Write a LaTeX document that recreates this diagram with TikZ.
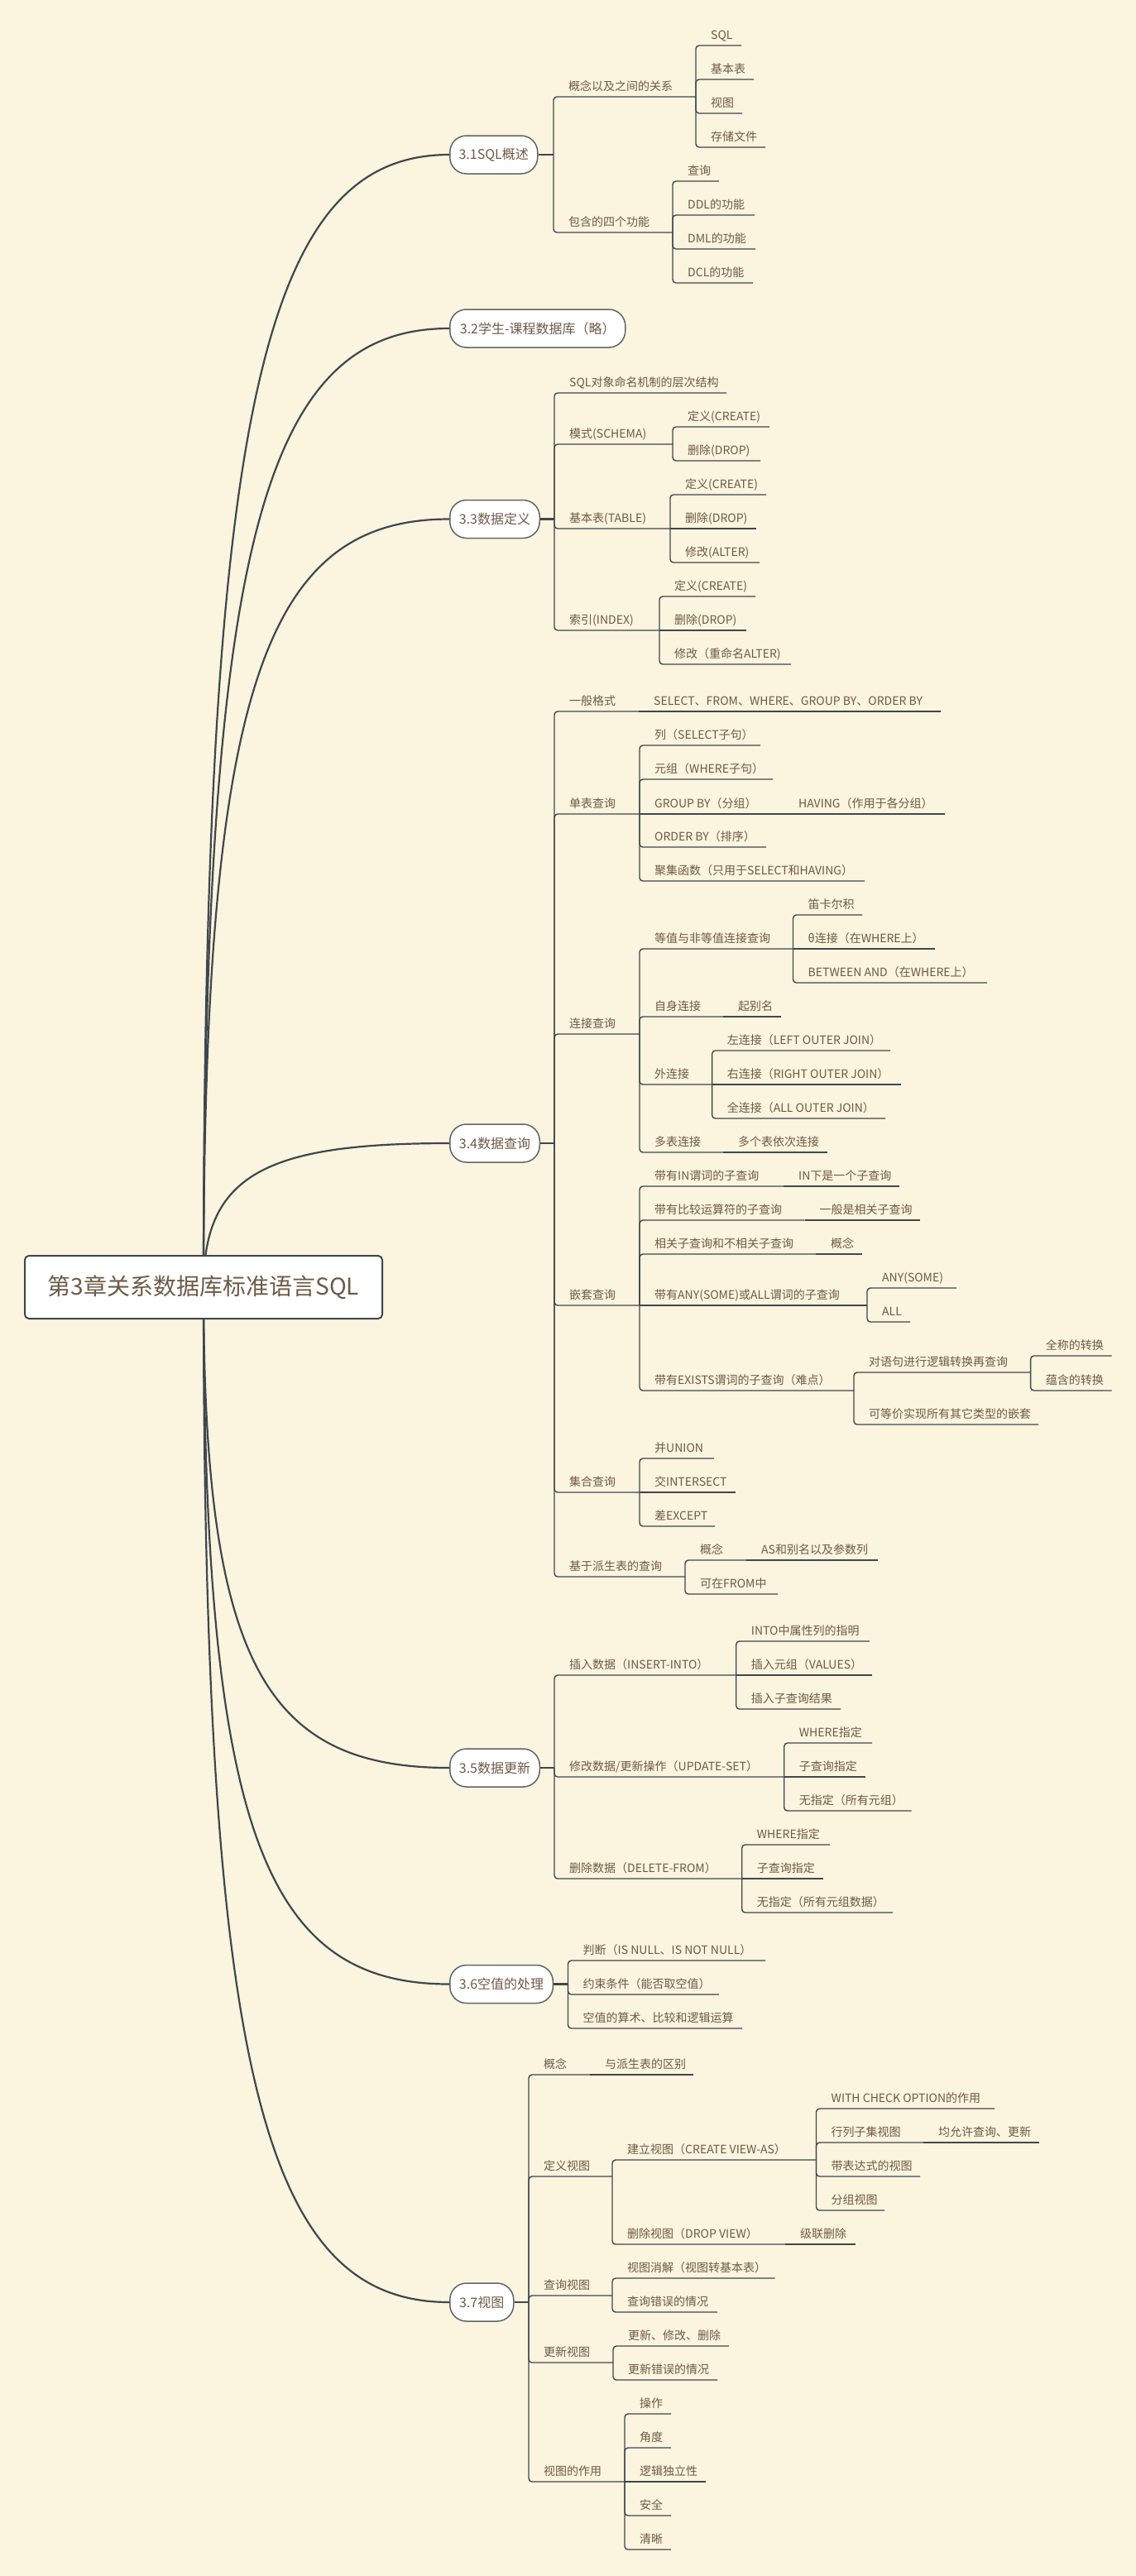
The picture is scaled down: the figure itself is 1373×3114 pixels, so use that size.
\documentclass[tikz,border=0pt]{standalone}
\usepackage{fontspec}
\setmainfont{Noto Sans CJK SC}
\usetikzlibrary{calc}
\pgfdeclarelayer{bg}
\pgfsetlayers{bg,main}
\definecolor{bgc}{HTML}{FBF4DE}
\definecolor{txt}{HTML}{6E5A46}
\definecolor{ln}{HTML}{3F474E}
\definecolor{bd}{HTML}{5F656B}
\newcommand\kid[5]{%
  \coordinate (#2E) at (#4,#3);
  \path (#1E) ++(18,0) coordinate (#2T);
  \node[lab] (#2) at (#2T |- #2E) {#5};
  \pgfpointanchor{#1E}{center}\pgfgetlastxy{\kax}{\kay}%
  \pgfpointanchor{#2E}{center}\pgfgetlastxy{\kbx}{\kby}%
  \ifdim\dimexpr\kay-\kby\relax=0pt
    \draw[ul, sharp corners] (#1E) -- (#2E);
  \else
    \draw[ul] (#1E) |- (#2E);
  \fi
}
\begin{document}
\begin{tikzpicture}[x=1pt,y=-1pt,
  lab/.style={anchor=base west, inner sep=0pt, yshift=8pt, font=\fontsize{14}{16}\selectfont, text=txt},
  ul/.style={draw=ln, line width=1.4pt, rounded corners=4pt},
  lone/.style={draw=bd, fill=white, line width=1.5pt, rounded corners=20pt, minimum height=46pt, inner sep=0pt, anchor=west, font=\fontsize{16}{18}\selectfont, text=txt},
  rootbox/.style={draw=ln, fill=white, line width=2pt, rounded corners=5pt, minimum width=432pt, minimum height=76pt, inner sep=0pt, font=\fontsize{28}{32}\selectfont, text=txt},
  lonec/.style={draw=ln, line width=2.2pt},
  lonej/.style={draw=ln, line width=2.6pt}]
\useasboundingbox (0,0) rectangle (1373,3114);
\begin{pgfonlayer}{bg}
\fill[bgc] (0,0) rectangle (1373,3114);
\end{pgfonlayer}

\node[rootbox] (root) at (246,1556) {第3章关系数据库标准语言SQL};

% level 1
\node[lone, minimum width=106pt] (n1) at (543,187) {3.1SQL概述};
\node[lone, minimum width=212pt] (n2) at (543,397) {3.2学生-课程数据库（略）};
\node[lone, minimum width=108.5pt] (n3) at (543,627.5) {3.3数据定义};
\node[lone, minimum width=108.5pt] (n4) at (543,1382) {3.4数据查询};
\node[lone, minimum width=108.5pt] (n5) at (543,2137) {3.5数据更新};
\node[lone, minimum width=124.6pt] (n6) at (543,2398.5) {3.6空值的处理};
\node[lone, minimum width=77pt] (n7) at (543,2783) {3.7视图};

\coordinate (n1E) at (669,187);
\coordinate (n3E) at (670,627.5);
\coordinate (n4E) at (670,1382);
\coordinate (n5E) at (670,2137);
\coordinate (n6E) at (686.5,2398.5);
\coordinate (n7E) at (639,2783);
\foreach \n in {n1,n3,n4,n5,n6,n7} \draw[lonej] (\n.east) -- (\n E);

% 3.1
\kid{n1}{a1}{117}{841}{概念以及之间的关系}
\kid{a1}{a11}{55}{896}{SQL}
\kid{a1}{a12}{96}{911}{基本表}
\kid{a1}{a13}{137}{897}{视图}
\kid{a1}{a14}{178}{925}{存储文件}
\kid{n1}{a2}{281}{813}{包含的四个功能}
\kid{a2}{a21}{219}{869}{查询}
\kid{a2}{a22}{260}{912}{DDL的功能}
\kid{a2}{a23}{301}{913}{DML的功能}
\kid{a2}{a24}{342}{910}{DCL的功能}

% 3.3
\kid{n3}{b1}{475}{878}{SQL对象命名机制的层次结构}
\kid{n3}{b2}{537}{813}{模式(SCHEMA)}
\kid{b2}{b21}{516}{930}{定义(CREATE)}
\kid{b2}{b22}{557}{919}{删除(DROP)}
\kid{n3}{b3}{639}{810}{基本表(TABLE)}
\kid{b3}{b31}{598}{926}{定义(CREATE)}
\kid{b3}{b32}{639}{914}{删除(DROP)}
\kid{b3}{b33}{680}{918}{修改(ALTER)}
\kid{n3}{b4}{762}{797}{索引(INDEX)}
\kid{b4}{b41}{721}{913}{定义(CREATE)}
\kid{b4}{b42}{762}{902}{删除(DROP)}
\kid{b4}{b43}{803}{956}{修改（重命名ALTER)}

% 3.4
\kid{n4}{c1}{860}{772}{一般格式}
\kid{c1}{c11}{860}{1137}{SELECT、FROM、WHERE、GROUP BY、ORDER BY}
\kid{n4}{c2}{984}{773}{单表查询}
\kid{c2}{c21}{901}{919}{列（SELECT子句）}
\kid{c2}{c22}{942}{934}{元组（WHERE子句）}
\kid{c2}{c23}{984}{947}{GROUP BY（分组）}
\kid{c23}{c231}{984}{1142}{HAVING（作用于各分组）}
\kid{c2}{c24}{1024}{926}{ORDER BY（排序）}
\kid{c2}{c25}{1065}{1045}{聚集函数（只用于SELECT和HAVING）}
\kid{n4}{c3}{1250}{773}{连接查询}
\kid{c3}{c31}{1147}{958.5}{等值与非等值连接查询}
\kid{c31}{c311}{1106}{1042}{笛卡尔积}
\kid{c31}{c312}{1147}{1129.5}{θ连接（在WHERE上）}
\kid{c31}{c313}{1188}{1193}{BETWEEN AND（在WHERE上）}
\kid{c3}{c32}{1229}{874}{自身连接}
\kid{c32}{c321}{1229}{944}{起别名}
\kid{c3}{c33}{1311}{860.6}{外连接}
\kid{c33}{c331}{1270}{1076}{左连接（LEFT OUTER JOIN）}
\kid{c33}{c332}{1311}{1089}{右连接（RIGHT OUTER JOIN）}
\kid{c33}{c333}{1352}{1070}{全连接（ALL OUTER JOIN）}
\kid{c3}{c34}{1393}{874}{多表连接}
\kid{c34}{c341}{1393}{1000}{多个表依次连接}
\kid{n4}{c4}{1578}{773}{嵌套查询}
\kid{c4}{c41}{1434}{947}{带有IN谓词的子查询}
\kid{c41}{c411}{1434}{1086.5}{IN下是一个子查询}
\kid{c4}{c42}{1475}{972.5}{带有比较运算符的子查询}
\kid{c42}{c421}{1475}{1112}{一般是相关子查询}
\kid{c4}{c43}{1516}{986}{相关子查询和不相关子查询}
\kid{c43}{c431}{1516}{1042}{概念}
\kid{c4}{c44}{1578}{1048}{带有ANY(SOME)或ALL谓词的子查询}
\kid{c44}{c441}{1557}{1156}{ANY(SOME)}
\kid{c44}{c442}{1598}{1100}{ALL}
\kid{c4}{c45}{1681}{1032}{带有EXISTS谓词的子查询（难点）}
\kid{c45}{c451}{1659}{1245.6}{对语句进行逻辑转换再查询}
\kid{c451}{c4511}{1639}{1343.5}{全称的转换}
\kid{c451}{c4512}{1681}{1343.5}{蕴含的转换}
\kid{c45}{c452}{1722}{1255}{可等价实现所有其它类型的嵌套}
\kid{n4}{c5}{1804}{773}{集合查询}
\kid{c5}{c51}{1763}{863}{并UNION}
\kid{c5}{c52}{1804}{889}{交INTERSECT}
\kid{c5}{c53}{1845}{864}{差EXCEPT}
\kid{n4}{c6}{1906}{828}{基于派生表的查询}
\kid{c6}{c61}{1886}{902}{概念}
\kid{c61}{c611}{1886}{1061}{AS和别名以及参数列}
\kid{c6}{c62}{1927}{940}{可在FROM中}

% 3.5
\kid{n5}{d1}{2025}{889.7}{插入数据（INSERT-INTO）}
\kid{d1}{d11}{1984}{1051}{INTO中属性列的指明}
\kid{d1}{d12}{2025}{1054}{插入元组（VALUES）}
\kid{d1}{d13}{2066}{1016}{插入子查询结果}
\kid{n5}{d2}{2148}{947.7}{修改数据/更新操作（UPDATE-SET）}
\kid{d2}{d21}{2107}{1054}{WHERE指定}
\kid{d2}{d22}{2148}{1046}{子查询指定}
\kid{d2}{d23}{2189}{1101.5}{无指定（所有元组）}
\kid{n5}{d3}{2271}{896.7}{删除数据（DELETE-FROM）}
\kid{d3}{d31}{2230}{1003}{WHERE指定}
\kid{d3}{d32}{2271}{995}{子查询指定}
\kid{d3}{d33}{2312}{1079}{无指定（所有元组数据）}

% 3.6
\kid{n6}{e1}{2370}{925}{判断（IS NULL、IS NOT NULL）}
\kid{n6}{e2}{2411}{869}{约束条件（能否取空值）}
\kid{n6}{e3}{2452}{897}{空值的算术、比较和逻辑运算}

% 3.7
\kid{n7}{f1}{2508}{713}{概念}
\kid{f1}{f11}{2508}{838}{与派生表的区别}
\kid{n7}{f2}{2631}{740}{定义视图}
\kid{f2}{f21}{2611}{986.5}{建立视图（CREATE VIEW-AS）}
\kid{f21}{f211}{2549}{1202}{WITH CHECK OPTION的作用}
\kid{f21}{f212}{2590}{1116}{行列子集视图}
\kid{f212}{f2121}{2590}{1256}{均允许查询、更新}
\kid{f21}{f213}{2631}{1112}{带表达式的视图}
\kid{f21}{f214}{2672}{1069}{分组视图}
\kid{f2}{f22}{2713}{949}{删除视图（DROP VIEW）}
\kid{f22}{f221}{2713}{1034}{级联删除}
\kid{n7}{f3}{2775}{740}{查询视图}
\kid{f3}{f31}{2754}{936.5}{视图消解（视图转基本表）}
\kid{f3}{f32}{2795}{867}{查询错误的情况}
\kid{n7}{f4}{2856}{741}{更新视图}
\kid{f4}{f41}{2836}{881}{更新、修改、删除}
\kid{f4}{f42}{2877}{867}{更新错误的情况}
\kid{n7}{f5}{3000}{755}{视图的作用}
\kid{f5}{f51}{2918}{811}{操作}
\kid{f5}{f52}{2959}{811}{角度}
\kid{f5}{f53}{3000}{853}{逻辑独立性}
\kid{f5}{f54}{3041}{811}{安全}
\kid{f5}{f55}{3082}{811}{清晰}

% root to level 1 curves
\begin{pgfonlayer}{bg}
\foreach \n in {n1,n2,n3,n4,n5,n6,n7}
  \draw[lonec] (root.center) .. controls ($(root.center)!0.78!(root.center |- \n.west)$) and ($(\n.west)!0.75!(root.center |- \n.west)$) .. (\n.west);
\end{pgfonlayer}
\end{tikzpicture}
\end{document}
